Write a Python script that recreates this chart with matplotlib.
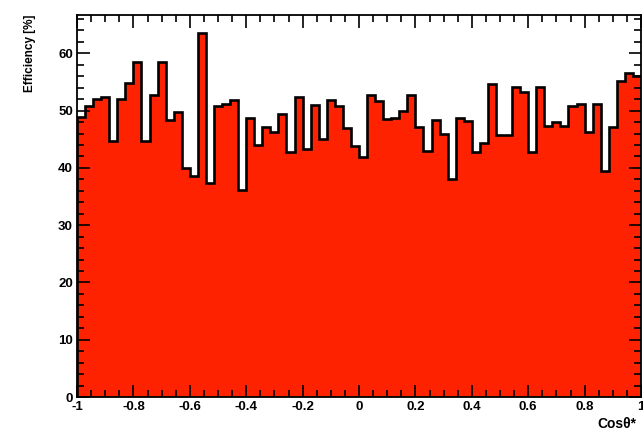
import numpy as np
import matplotlib.pyplot as plt
from matplotlib.ticker import MultipleLocator

# efficiency per cos(theta*) bin, 70 bins from -1 to 1
eff = [48.9, 50.8, 52.0, 52.4, 44.7, 52.0, 54.9, 58.5, 44.7, 52.7,
       58.5, 48.3, 49.8, 40.0, 38.6, 63.5, 37.4, 50.8, 51.2, 51.8,
       36.1, 48.7, 44.0, 47.2, 46.3, 49.5, 42.7, 52.4, 43.3, 51.0,
       45.0, 51.8, 50.8, 46.9, 43.8, 41.9, 52.7, 51.7, 48.5, 48.8,
       50.0, 52.7, 47.2, 43.0, 48.3, 45.9, 38.0, 48.7, 48.2, 42.8,
       44.4, 54.7, 45.7, 45.7, 54.2, 53.3, 42.8, 54.2, 47.3, 48.0,
       47.3, 50.8, 51.2, 46.3, 51.2, 39.4, 47.2, 55.2, 56.6, 56.0]
edges = np.linspace(-1, 1, len(eff) + 1)
xticks = [-1, -0.8, -0.6, -0.4, -0.2, 0, 0.2, 0.4, 0.6, 0.8, 1]
xlabels = ["-1", "-0.8", "-0.6", "-0.4", "-0.2", "0", "0.2", "0.4", "0.6", "0.8", "1"]

plt.rcParams['font.family'] = ['Liberation Sans', 'DejaVu Sans']
plt.rcParams['font.weight'] = 'bold'

fig = plt.figure(figsize=(6.43, 4.32), dpi=100)
ax = fig.add_axes([77/643, 35/432, 564/643, 382/432])

ax.stairs(eff, edges, fill=True, color='#ff2200')
ax.stairs(eff, edges, color='black', linewidth=1.9)

ax.set_xlim(-1, 1)
ax.set_ylim(0, 66.7)
ax.set_xticks(xticks)
ax.set_xticklabels(xlabels)
ax.xaxis.set_minor_locator(MultipleLocator(0.05))
ax.yaxis.set_major_locator(MultipleLocator(10))
ax.yaxis.set_minor_locator(MultipleLocator(2))
ax.tick_params(which='both', direction='in', top=True, right=True,
               labelsize=9.5, width=1.2, pad=3)
ax.tick_params(which='major', length=9)
ax.tick_params(which='minor', length=5)
for s in ax.spines.values():
    s.set_linewidth(1.3)

fig.text(30/643, 1 - 15/432, "Efficiency [%]", rotation=90, ha='center', va='top',
         fontsize=8.5, fontweight='bold')
fig.text(597/643, 1 - 424/432, "Cosθ*", ha='left', va='center',
         fontsize=10, fontweight='bold')

fig.savefig("out.png", dpi=100)
